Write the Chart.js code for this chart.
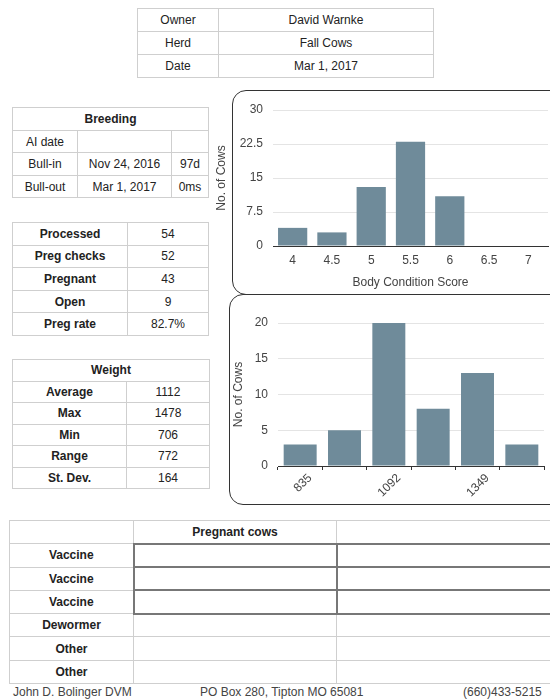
<!DOCTYPE html>
<html>
<head>
<meta charset="utf-8">
<script src="https://cdn.jsdelivr.net/npm/chart.js@4"></script>
<style>
  html, body { margin:0; padding:0; width:550px; height:699px; overflow:hidden; background:#fff;
    font-family:"Liberation Sans", Arial, Helvetica, sans-serif; color:#222; }
  table { position:absolute; border-collapse:collapse; table-layout:fixed; font-size:12px; }
  td { border:1px solid #cfcfcf; text-align:center; padding:0; white-space:nowrap; overflow:hidden; }
  td.b { font-weight:bold; }
  .box { position:absolute; border:1.5px solid #333; border-radius:14px; box-sizing:border-box; }
  canvas { position:absolute; }
  .foot { position:absolute; top:685px; font-size:12px; color:#444; white-space:nowrap; }
  td.in { border:2px solid #777; }
</style>
</head>
<body>

<table style="left:137px; top:8px; width:296px;">
  <colgroup><col style="width:81px"><col style="width:215px"></colgroup>
  <tr style="height:23px"><td>Owner</td><td>David Warnke</td></tr>
  <tr style="height:23px"><td>Herd</td><td>Fall Cows</td></tr>
  <tr style="height:23px"><td>Date</td><td>Mar 1, 2017</td></tr>
</table>

<table style="left:12px; top:107px; width:196px;">
  <colgroup><col style="width:65px"><col style="width:94px"><col style="width:37px"></colgroup>
  <tr style="height:23px"><td class="b" colspan="3">Breeding</td></tr>
  <tr style="height:22px"><td>AI date</td><td></td><td></td></tr>
  <tr style="height:23px"><td>Bull-in</td><td>Nov 24, 2016</td><td>97d</td></tr>
  <tr style="height:22px"><td>Bull-out</td><td>Mar 1, 2017</td><td>0ms</td></tr>
</table>

<table style="left:12px; top:222px; width:196px;">
  <colgroup><col style="width:115px"><col style="width:81px"></colgroup>
  <tr style="height:22.6px"><td class="b">Processed</td><td>54</td></tr>
  <tr style="height:22.6px"><td class="b">Preg checks</td><td>52</td></tr>
  <tr style="height:22.6px"><td class="b">Pregnant</td><td>43</td></tr>
  <tr style="height:22.6px"><td class="b">Open</td><td>9</td></tr>
  <tr style="height:22.6px"><td class="b">Preg rate</td><td>82.7%</td></tr>
</table>

<table style="left:12px; top:359px; width:197px;">
  <colgroup><col style="width:114px"><col style="width:83px"></colgroup>
  <tr style="height:21.5px"><td class="b" colspan="2">Weight</td></tr>
  <tr style="height:21.5px"><td class="b">Average</td><td>1112</td></tr>
  <tr style="height:21.5px"><td class="b">Max</td><td>1478</td></tr>
  <tr style="height:21.5px"><td class="b">Min</td><td>706</td></tr>
  <tr style="height:21.5px"><td class="b">Range</td><td>772</td></tr>
  <tr style="height:21.5px"><td class="b">St. Dev.</td><td>164</td></tr>
</table>

<div class="box" style="left:232px; top:90px; width:340px; height:205px;"></div>
<div class="box" style="left:229px; top:294px; width:340px; height:211px;"></div>
<canvas id="bcs" width="340" height="204" style="left:210px; top:90px;"></canvas>
<canvas id="wt" width="321" height="211" style="left:229px; top:294px;"></canvas>

<table style="left:9px; top:520px; width:600px;">
  <colgroup><col style="width:124px"><col style="width:203px"><col style="width:273px"></colgroup>
  <tr style="height:23.3px"><td></td><td class="b">Pregnant cows</td><td></td></tr>
  <tr style="height:23.3px"><td class="b">Vaccine</td><td class="in"></td><td class="in"></td></tr>
  <tr style="height:23.3px"><td class="b">Vaccine</td><td class="in"></td><td class="in"></td></tr>
  <tr style="height:23.3px"><td class="b">Vaccine</td><td class="in"></td><td class="in"></td></tr>
  <tr style="height:23.3px"><td class="b">Dewormer</td><td></td><td></td></tr>
  <tr style="height:23.3px"><td class="b">Other</td><td></td><td></td></tr>
  <tr style="height:23.3px"><td class="b">Other</td><td></td><td></td></tr>
</table>

<div class="foot" style="left:13px;">John D. Bolinger DVM</div>
<div class="foot" style="left:200px;">PO Box 280, Tipton MO 65081</div>
<div class="foot" style="left:463px;">(660)433-5215</div>

<script>
// ---- data ----
const bcsCategories = ['4', '4.5', '5', '5.5', '6', '6.5', '7'];
const bcsCounts = [4, 3, 13, 23, 11, 0, 0];
const bcsYTicks = [0, 7.5, 15, 22.5, 30];

const weightBins = ['706–835', '835–963', '963–1092', '1092–1221', '1221–1349', '1349–1478'];
const weightCounts = [3, 5, 20, 8, 13, 3];
const weightTickLabels = ['835', '', '1092', '', '1349', ''];
const weightYTicks = [0, 5, 10, 15, 20];

const BAR = '#6f8b9a';
const FONT = "'Liberation Sans', Arial, Helvetica, sans-serif";
Chart.defaults.font.family = FONT;
Chart.defaults.font.size = 12;
Chart.defaults.color = '#444';

new Chart(document.getElementById('bcs'), {
  type: 'bar',
  data: { labels: bcsCategories, datasets: [{ data: bcsCounts, backgroundColor: BAR,
    categoryPercentage: 0.8, barPercentage: 0.93 }] },
  options: {
    responsive: false, animation: false,
    layout: { padding: { top: 20, right: 2, bottom: 0, left: 0 } },
    plugins: { legend: { display: false }, tooltip: { enabled: false } },
    scales: {
      x: {
        grid: { display: true, drawOnChartArea: false, drawTicks: false },
        border: { display: true, color: '#333', width: 1 },
        ticks: { padding: 7, color: '#444' },
        title: { display: true, text: 'Body Condition Score', color: '#444', padding: { top: 0, bottom: 4 } },
        afterFit: s => { s.height = 48; }
      },
      y: {
        min: 0, max: 30,
        afterBuildTicks: s => { s.ticks = bcsYTicks.map(v => ({ value: v })); },
        grid: { color: '#e4e4e4', drawTicks: false },
        border: { display: false },
        ticks: { padding: 10, color: '#444' },
        title: { display: true, text: 'No. of Cows', color: '#444', padding: { top: 4, bottom: 0 } },
        afterFit: s => { s.width = 63; }
      }
    }
  }
});

new Chart(document.getElementById('wt'), {
  type: 'bar',
  data: { labels: weightBins, datasets: [{ data: weightCounts, backgroundColor: BAR,
    categoryPercentage: 0.8, barPercentage: 0.93 }] },
  options: {
    responsive: false, animation: false,
    layout: { padding: { top: 29, right: 6, bottom: 0, left: 0 } },
    plugins: { legend: { display: false }, tooltip: { enabled: false } },
    scales: {
      x: {
        grid: { display: true, drawOnChartArea: false, drawTicks: true, tickLength: 4, color: '#333' },
        border: { display: true, color: '#333', width: 1 },
        ticks: { autoSkip: false, minRotation: 45, maxRotation: 45, padding: 1, labelOffset: 10, color: '#444',
          callback: (v, i) => weightTickLabels[i] },
        afterFit: s => { s.height = 39; }
      },
      y: {
        min: 0, max: 20,
        afterBuildTicks: s => { s.ticks = weightYTicks.map(v => ({ value: v })); },
        grid: { color: '#e4e4e4', drawTicks: false },
        border: { display: false },
        ticks: { padding: 10, color: '#444' },
        title: { display: true, text: 'No. of Cows', color: '#444', padding: { top: 2, bottom: 0 } },
        afterFit: s => { s.width = 49; }
      }
    }
  }
});
</script>
</body>
</html>
